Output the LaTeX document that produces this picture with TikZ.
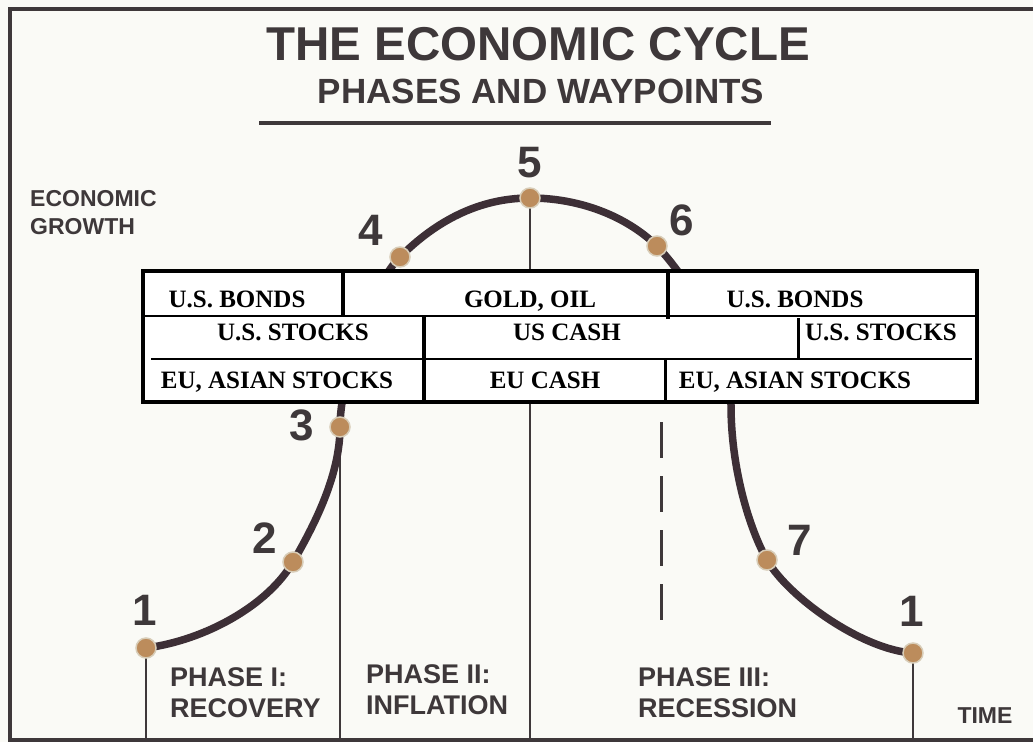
\documentclass[tikz,border=0pt]{standalone}
\usepackage{fontspec}
\setmainfont{Liberation Serif}
\setsansfont{Liberation Sans}
\usepackage{xcolor}
\definecolor{paper}{RGB}{250,250,246}
\definecolor{ink}{RGB}{62,56,58}
\definecolor{curvebrown}{RGB}{61,47,54}
\definecolor{dotfill}{RGB}{188,140,92}
\definecolor{dotring}{RGB}{216,205,184}

\begin{document}
\begin{tikzpicture}[x=1pt, y=-1pt,
    lbl/.style={font=\sffamily\bfseries\fontsize{27}{31}\selectfont, text=ink, anchor=north west,
                inner sep=0pt, align=left},
    num/.style={font=\sffamily\bfseries\fontsize{44}{50}\selectfont, text=ink, anchor=base, inner sep=0pt},
    cell/.style={font=\bfseries\fontsize{25}{28}\selectfont, anchor=base, inner sep=0pt},
    waypt/.style={circle, fill=dotfill, draw=dotring, line width=1.5pt, minimum size=20pt, inner sep=0pt},
    guide/.style={ink, line width=2.8pt},
    wave/.style={curvebrown, line width=7.5pt}]
\useasboundingbox[fill=paper] (0,0) rectangle (1033,742);
% frame: left, top and bottom only
\draw[ink, line width=4.5pt] (1033,9) -- (10,9) -- (10,740) -- (1033,740);
\coordinate (floor) at (0,740);
% waypoints of the cycle
\coordinate (p1) at (146,648);
\coordinate (p2) at (293,562);
\coordinate (p3) at (340,427);
\coordinate (p4) at (400,257);
\coordinate (p5) at (530,198);
\coordinate (p6) at (657,246);
\coordinate (q) at (731,405);
\coordinate (p7) at (767,560);
\coordinate (p8) at (913,653);
% titles
\node[font=\sffamily\bfseries\fontsize{47.5}{55}\selectfont, text=ink, anchor=base] (title) at (538,60) {THE ECONOMIC CYCLE};
\node[font=\sffamily\bfseries\fontsize{35}{40}\selectfont, text=ink, anchor=base] (subtitle) at (541,103) {PHASES AND WAYPOINTS};
\draw[ink, line width=4.5pt] (259,123) -- (771,123);
\node[font=\sffamily\bfseries\fontsize{23}{28}\selectfont, text=ink, anchor=north west, inner sep=0pt, align=left] (growth) at (30,190) {ECONOMIC\\GROWTH};
\node[font=\sffamily\bfseries\fontsize{23}{28}\selectfont, text=ink, anchor=base] (time) at (985,723) {TIME};
% phase boundaries
\foreach \p in {p1,p3,p5,p8} {
    \draw[guide] (\p) -- (\p |- floor);
}
\draw[guide, line width=3pt, dash pattern=on 36pt off 18pt] (661,422) -- (661,620);
% the cycle curve
\draw[wave] (p1) .. controls (206,640) and (268,605) .. (p2)
    .. controls (318,519) and (340,472) .. (p3)
    .. controls (340,380) and (370,287) .. (p4)
    .. controls (435,222) and (478,198) .. (p5)
    .. controls (578,198) and (625,215) .. (p6)
    .. controls (687,278) and (731,345) .. (q)
    .. controls (731,470) and (750,530) .. (p7)
    .. controls (789,598) and (863,650) .. (p8);
\foreach \p in {p1,p2,p3,p4,p5,p6,p7,p8} {
    \node[waypt] (w\p) at (\p) {};
}
\node[num] (n1) at (145,625) {1};
\node[num] (n2) at (265,553) {2};
\node[num] (n3) at (302,440) {3};
\node[num] (n4) at (371,245) {4};
\node[num] (n5) at (530,177) {5};
\node[num] (n6) at (682,235) {6};
\node[num] (n7) at (800,555) {7};
\node[num] (n8) at (912,626) {1};
\node[lbl] (ph1) at (170,667) {PHASE I:\\RECOVERY};
\node[lbl] (ph2) at (366,664) {PHASE II:\\INFLATION};
\node[lbl] (ph3) at (638,667) {PHASE III:\\RECESSION};
% asset table laid over the curve
\draw[line width=4pt, fill=white] (143,271) rectangle (977,402);
\draw[line width=2.5pt] (143,316) -- (977,316);
\draw[line width=2.5pt] (151,359) -- (972,359);
\foreach \xa/\ya/\yb in {343/271/316, 668/273/319, 424/315/402} {
    \draw[line width=4pt] (\xa,\ya) -- (\xa,\yb);
}
\foreach \xa/\ya/\yb in {798/318/358, 665/359/402} {
    \draw[line width=3pt] (\xa,\ya) -- (\xa,\yb);
}
\node[cell] (bonds1) at (237,307) {U.S. BONDS};
\node[cell] (gold) at (530,307) {GOLD, OIL};
\node[cell] (bonds2) at (795,307) {U.S. BONDS};
\node[cell] (stocks1) at (293,340) {U.S. STOCKS};
\node[cell] (uscash) at (567,340) {US CASH};
\node[cell] (stocks2) at (881,340) {U.S. STOCKS};
\node[cell] (eu1) at (277,388) {EU, ASIAN STOCKS};
\node[cell] (eucash) at (545,388) {EU CASH};
\node[cell] (eu2) at (795,388) {EU, ASIAN STOCKS};
\end{tikzpicture}
\end{document}
